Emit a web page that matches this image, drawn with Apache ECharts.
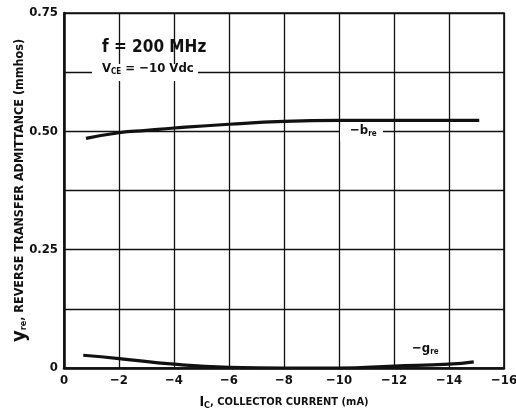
<!DOCTYPE html>
<html>
<head>
<meta charset="utf-8">
<script src="https://cdn.jsdelivr.net/npm/echarts@6/dist/echarts.min.js"></script>
<style>
  html, body { margin: 0; padding: 0; background: #fff; }
  #chart { width: 516px; height: 411px; }
</style>
</head>
<body>
<div id="chart"></div>
<script>
// Collector current (mA) and reverse transfer admittance components (mmhos)
const bReCurrent = [-0.8, -2, -3, -4, -6, -8, -10, -12, -14, -15.1];
const bReValues  = [0.485, 0.497, 0.502, 0.507, 0.515, 0.521, 0.523, 0.523, 0.523, 0.523];
const gReCurrent = [-0.7, -2, -4, -6, -8, -10, -12, -14, -14.9];
const gReValues  = [0.027, 0.020, 0.008, 0.0015, 0, 0, 0.004, 0.008, 0.013];
const xTicks = [0, -2, -4, -6, -8, -10, -12, -14, -16];
const yTickLabels = { '0': '0', '0.25': '0.25', '0.5': '0.50', '0.75': '0.75' };

const FONT = "'Liberation Sans Narrow', 'DejaVu Sans Condensed', 'Arial Narrow', sans-serif";
const INK = '#111';

const chart = echarts.init(document.getElementById('chart'));

function pairs(xs, ys) { return xs.map((x, i) => [x, ys[i]]); }

chart.setOption({
  animation: false,
  backgroundColor: '#fff',
  grid: {
    left: 64, right: 12, top: 13, bottom: 43, show: true,
    borderColor: INK, borderWidth: 1.6, containLabel: false, outerBoundsMode: 'none'
  },
  xAxis: {
    type: 'value', min: -16, max: 0, interval: 2, inverse: true,
    axisLine: { show: true, lineStyle: { color: INK, width: 2.5 } },
    axisTick: { show: false },
    splitLine: { show: true, lineStyle: { color: INK, width: 1.3 } },
    axisLabel: {
      color: INK, fontFamily: FONT, fontWeight: 'bold', fontSize: 13, margin: 6,
      formatter: v => xTicks.indexOf(v) >= 0 ? (v === 0 ? '0' : '\u2212' + Math.abs(v)) : ''
    },
    name: '{i|I}{s|C}{t|, COLLECTOR CURRENT (mA)}',
    nameLocation: 'middle', nameGap: 26, nameMoveOverlap: false,
    nameTextStyle: {
      color: INK, fontFamily: FONT, fontWeight: 'bold',
      rich: {
        i: { fontSize: 14, fontFamily: FONT, fontWeight: 'bold', color: INK },
        s: { fontSize: 9, fontFamily: FONT, fontWeight: 'bold', color: INK, padding: [7, 0, 0, 0] },
        t: { fontSize: 11, fontFamily: FONT, fontWeight: 'bold', color: INK }
      }
    }
  },
  yAxis: {
    type: 'value', min: 0, max: 0.75, interval: 0.125,
    axisLine: { show: true, lineStyle: { color: INK, width: 2.5 } },
    axisTick: { show: false },
    splitLine: { show: true, lineStyle: { color: INK, width: 1.3 } },
    axisLabel: {
      color: INK, fontFamily: FONT, fontWeight: 'bold', fontSize: 13, margin: 6,
      formatter: v => yTickLabels[String(v)] || ''
    },
    name: '{y|y}{s|re}{t|, REVERSE TRANSFER ADMITTANCE (mmhos)}',
    nameLocation: 'middle', nameGap: 34, nameRotate: 90, nameMoveOverlap: false,
    nameTextStyle: {
      color: INK, fontFamily: FONT, fontWeight: 'bold',
      rich: {
        y: { fontSize: 20, fontFamily: FONT, fontWeight: 'bold', color: INK },
        s: { fontSize: 9, fontFamily: FONT, fontWeight: 'bold', color: INK, padding: [8, 0, 0, 0] },
        t: { fontSize: 12.5, fontFamily: FONT, fontWeight: 'bold', color: INK }
      }
    }
  },
  series: [
    {
      name: '-bre', type: 'line', smooth: true, showSymbol: false,
      lineStyle: { color: INK, width: 3.2 },
      data: pairs(bReCurrent, bReValues)
    },
    {
      name: '-gre', type: 'line', smooth: true, showSymbol: false,
      lineStyle: { color: INK, width: 3.2 },
      data: pairs(gReCurrent, gReValues)
    }
  ],
  graphic: [
    {
      type: 'text', left: 102, top: 39, z: 100,
      style: { text: 'f = 200 MHz', font: `bold 17px ${FONT}`, fill: INK }
    },
    {
      type: 'rect', left: 92, top: 64, z: 99,
      shape: { width: 106, height: 17 }, style: { fill: '#fff' }
    },
    {
      type: 'text', left: 102, top: 62, z: 100,
      style: {
        text: '{v|V}{s|CE}{t| = \u221210 Vdc}',
        rich: {
          v: { font: `bold 13px ${FONT}`, fill: INK },
          s: { font: `bold 8px ${FONT}`, fill: INK, padding: [6, 0, 0, 0] },
          t: { font: `bold 13px ${FONT}`, fill: INK }
        }
      }
    },
    {
      type: 'rect', left: 340, top: 127, z: 99,
      shape: { width: 43, height: 14 }, style: { fill: '#fff' }
    },
    {
      type: 'text', left: 350, top: 124, z: 100,
      style: {
        text: '{t|\u2212b}{s|re}',
        rich: {
          t: { font: `bold 13px ${FONT}`, fill: INK },
          s: { font: `bold 8px ${FONT}`, fill: INK, padding: [6, 0, 0, 0] }
        }
      }
    },
    {
      type: 'text', left: 412, top: 342, z: 100,
      style: {
        text: '{t|\u2212g}{s|re}',
        rich: {
          t: { font: `bold 13px ${FONT}`, fill: INK },
          s: { font: `bold 8px ${FONT}`, fill: INK, padding: [6, 0, 0, 0] }
        }
      }
    }
  ]
});
</script>
</body>
</html>
